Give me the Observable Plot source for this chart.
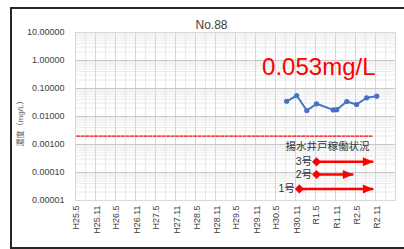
<!DOCTYPE html>
<html>
<head>
<meta charset="utf-8">
<script src="https://cdn.jsdelivr.net/npm/d3@7"></script>
<script src="https://cdn.jsdelivr.net/npm/@observablehq/plot@0.6"></script>
<style>
  html, body { margin: 0; padding: 0; background: #fff; }
  #wrap { position: relative; width: 404px; height: 249px; overflow: hidden; }
  #chart { position: absolute; left: 0; top: 0; }
  #border { position: absolute; left: 10px; top: 7px; width: 420px; height: 242px; box-sizing: border-box; border: 2px solid #262626; pointer-events: none; }
</style>
</head>
<body>
<div id="wrap"><div id="chart"></div><div id="border"></div></div>
<script>
const chartTitle = "No.88";
const latestLabel = "0.053mg/L";
const yAxisTitle = "濃度（mg/L）";
const legendTitle = "揚水井戸稼働状況";

// measured concentrations
const sampleDates = ["2018-08-01","2018-11-01","2019-02-01","2019-05-01","2019-10-01","2019-11-01","2020-02-01","2020-05-01","2020-08-01","2020-11-01"];
const sampleValues = [0.035, 0.056, 0.0164, 0.0284, 0.0172, 0.0175, 0.0344, 0.0268, 0.0466, 0.053];

// standard value line
const standardValue = 0.002;
const standardDates = ["2013-05-01", "2020-10-01"];

// pumping wells operation
const wellNames = ["3号", "2号", "1号"];
const wellStart = ["2019-05-01", "2019-05-01", "2018-11-25"];
const wellEnd = ["2020-10-01", "2020-04-01", "2020-10-01"];
const wellLevel = [2.4e-4, 8.5e-5, 2.6e-5];

// axes
const xTickDates = ["2013-05-01","2013-11-01","2014-05-01","2014-11-01","2015-05-01","2015-11-01","2016-05-01","2016-11-01","2017-05-01","2017-11-01","2018-05-01","2018-11-01","2019-05-01","2019-11-01","2020-05-01","2020-11-01"];
const xTickLabels = ["H25.5","H25.11","H26.5","H26.11","H27.5","H27.11","H28.5","H28.11","H29.5","H29.11","H30.5","H30.11","R1.5","R1.11","R2.5","R2.11"];
const yTicks = [0.00001, 0.0001, 0.001, 0.01, 0.1, 1, 10];
const xDomain = ["2013-04-21", "2021-04-21"];

const parse = s => new Date(s + "T00:00:00Z");
const samples = sampleDates.map((d, i) => ({date: parse(d), value: sampleValues[i]}));
const standard = standardDates.map(d => ({date: parse(d), value: standardValue}));
const wells = wellNames.map((n, i) => ({name: n, start: parse(wellStart[i]), end: parse(wellEnd[i]), level: wellLevel[i]}));
const xTicks = xTickDates.map(parse);
const d0 = parse(xDomain[0]), d1 = parse(xDomain[1]);

// gridlines (every 3 months, darker every 6)
const vGrid = d3.range(1, 32).map(k => ({date: d3.utcMonth.offset(d0, 3 * k), major: k % 2 === 0}));
const hMinor = [];
for (let e = -5; e < 1; e++) for (let m = 2; m <= 9; m++) hMinor.push(m * Math.pow(10, e));

const arrowHead = {
  draw(ctx) { ctx.moveTo(0, 0); ctx.lineTo(-10.5, -4.5); ctx.lineTo(-10.5, 4.5); ctx.closePath(); }
};

const font = "'Liberation Sans', 'Noto Sans CJK JP', sans-serif";
const red = "#ff0000", blue = "#4472c4", txt = "#404040";

const plot = Plot.plot({
  width: 404, height: 249,
  marginLeft: 75, marginRight: 9, marginTop: 32, marginBottom: 49,
  style: {fontFamily: font, background: "transparent"},
  x: {type: "utc", domain: [d0, d1]},
  y: {type: "log", domain: [0.00001, 10]},
  marks: [
    Plot.ruleY(hMinor, {stroke: "#ececec", strokeWidth: 1}),
    Plot.ruleX(vGrid, {x: "date", stroke: d => d.major ? "#d6d6d6" : "#e8e8e8", strokeWidth: 1}),
    Plot.ruleY(yTicks, {stroke: "#c8c8c8", strokeWidth: 1}),
    Plot.frame({stroke: "#d9d9d9"}),
    Plot.axisY({ticks: yTicks, tickFormat: d3.format(".5f"), tickSize: 0, tickPadding: 11, fontSize: 9, fill: txt, label: null}),
    Plot.axisX({ticks: xTicks, tickFormat: d => xTickLabels[xTicks.findIndex(t => +t === +d)], tickRotate: -90, tickSize: 0, tickPadding: 5, fontSize: 9, fill: txt, label: null}),
    Plot.lineY(standard, {x: "date", y: "value", stroke: red, strokeWidth: 1.3, strokeDasharray: "3,1.5"}),
    Plot.lineY(samples, {x: "date", y: "value", stroke: blue, strokeWidth: 2}),
    Plot.dot(samples, {x: "date", y: "value", r: 2.6, fill: blue, stroke: "none"}),
    Plot.link(wells, {x1: "start", x2: "end", y1: "level", y2: "level", stroke: red, strokeWidth: 2.5}),
    Plot.dot(wells, {x: "start", y: "level", symbol: "diamond2", r: 4.1, fill: red, stroke: "none"}),
    Plot.dot(wells, {x: "end", y: "level", symbol: arrowHead, fill: red, stroke: "none"}),
    Plot.text(wells, {x: "start", y: "level", text: "name", textAnchor: "end", dx: -4.5, fontSize: 10.5, fill: "#333"}),
    Plot.text([legendTitle], {frameAnchor: "bottom-right", textAnchor: "middle", lineAnchor: "middle", dx: -68, dy: -54, fontSize: 10.5, fill: "#333"}),
    Plot.text([chartTitle], {frameAnchor: "top", textAnchor: "middle", lineAnchor: "bottom", dx: -24, dy: -4, fontSize: 12, fill: txt}),
    Plot.text([latestLabel], {frameAnchor: "top-right", textAnchor: "end", lineAnchor: "bottom", dx: -20, dy: 42, fontSize: 24, fill: red}),
    Plot.text([yAxisTitle], {frameAnchor: "left", textAnchor: "middle", lineAnchor: "middle", rotate: -90, dx: -55, dy: 5, fontSize: 8, fill: "#595959"})
  ]
});
document.getElementById("chart").appendChild(plot);
</script>
</body>
</html>
